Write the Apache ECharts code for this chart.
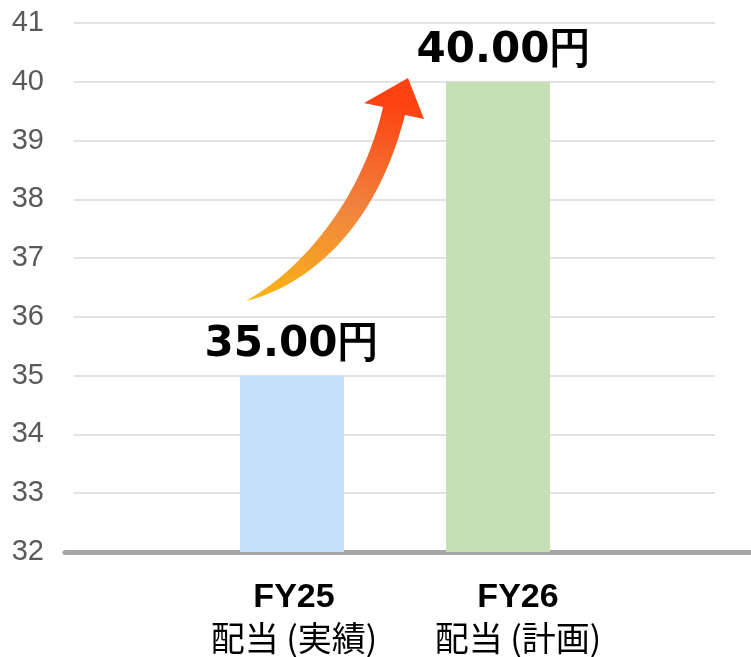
<!DOCTYPE html>
<html>
<head>
<meta charset="utf-8">
<script src="https://cdn.jsdelivr.net/npm/echarts@6/dist/echarts.min.js"></script>
<style>
html,body{margin:0;padding:0;background:#fff;}
#chart{width:751px;height:657px;}
</style>
</head>
<body>
<div id="chart"></div>
<script>
// data
var categories = ['FY25', 'FY26']
var subLabels = ['配当 (実績)', '配当 (計画)']
var dividend = [35, 40]
var barColors = ['#c4e0fb', '#c5e0b4']
var yMin = 32, yMax = 41, yStep = 1

var chart = echarts.init(document.getElementById('chart'))

var hiddenY = function(i){
    return {gridIndex:i, type:'value', min:yMin, max:yMax, interval:yStep, show:false}
}

// decorative arrow outline, sampled from two cubic curves
var cubic = function(p0, p1, p2, p3, n){
    var pts = []
    for(var k=0;k<=n;k++){
        var t = k/n, u = 1-t
        pts.push([
            u*u*u*p0[0] + 3*u*u*t*p1[0] + 3*u*t*t*p2[0] + t*t*t*p3[0],
            u*u*u*p0[1] + 3*u*u*t*p1[1] + 3*u*t*t*p2[1] + t*t*t*p3[1]
        ])
    }
    return pts
}
var arrowPts = cubic([246,301],[302,287],[374,236],[405,115],30)
    .concat([[424,119],[408,78],[364,103]])
    .concat(cubic([383,107],[364,192],[308,266],[246,301],30))

var option = {
    animation:false,
    grid:[
        {left:74, right:36, top:23, bottom:105},   // gridlines + y labels
        {left:65, right:0, top:23, bottom:105},    // thick base line
        {left:189, right:150, top:23, bottom:105}, // bars
        {left:182, right:121, top:23, bottom:105}  // category labels
    ],
    xAxis:[
        {gridIndex:0, type:'category', data:categories, show:false},
        {gridIndex:1, type:'category', data:categories,
            axisLine:{show:true, lineStyle:{color:'#a6a6a6', width:5}},
            axisTick:{show:false}, axisLabel:{show:false}},
        {gridIndex:2, type:'category', data:categories, show:false},
        {gridIndex:3, type:'category', data:categories,
            axisLine:{show:false}, axisTick:{show:false},
            axisLabel:{
                margin:26,
                formatter:function(v, i){
                    return '{a|' + v + '}\n{b|' + subLabels[i] + '}'
                },
                rich:{
                    a:{fontFamily:'Liberation Sans', fontWeight:'bold', fontSize:34, color:'#000', lineHeight:40},
                    b:{fontFamily:'Noto Sans CJK JP', fontSize:34, color:'#000', lineHeight:40}
                }
            }}
    ],
    yAxis:[
        {gridIndex:0, type:'value', min:yMin, max:yMax, interval:yStep,
            axisLine:{show:false}, axisTick:{show:false},
            axisLabel:{margin:30, color:'#595959', fontSize:29, fontFamily:'Liberation Sans'},
            splitLine:{lineStyle:{color:'#d9d9d9', width:1.5}}},
        hiddenY(1), hiddenY(2), hiddenY(3)
    ],
    graphic:[{
        type:'polygon',
        z:10,
        shape:{points:arrowPts},
        style:{
            fill:{
                type:'linear', x:0, y:1, x2:0.3, y2:0,
                colorStops:[
                    {offset:0, color:'#fbb614'},
                    {offset:0.5, color:'#f0843e'},
                    {offset:1, color:'#fd4110'}
                ]
            }
        }
    }],
    series:[{
        type:'bar',
        xAxisIndex:2,
        yAxisIndex:2,
        barWidth:104,
        data:dividend.map(function(v, i){
            return {value:v, itemStyle:{color:barColors[i]},
                label:{offset:[i === 1 ? 6 : 0, 0]}}
        }),
        label:{
            show:true,
            position:'top',
            distance:10,
            formatter:function(p){ return p.value.toFixed(2) + '円' },
            fontFamily:'DejaVu Sans',
            fontWeight:'bold',
            fontSize:42,
            color:'#000'
        }
    }]
}

chart.setOption(option)
</script>
</body>
</html>
